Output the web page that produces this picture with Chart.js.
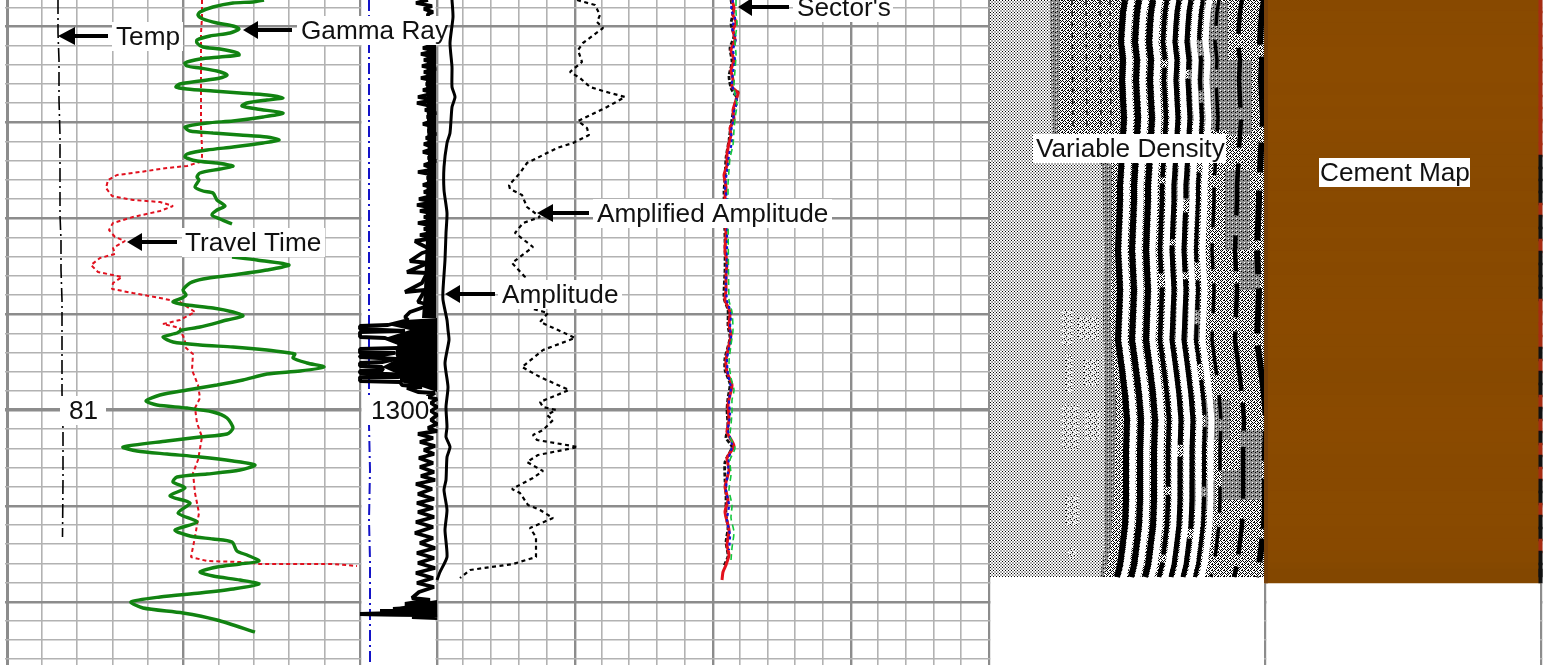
<!DOCTYPE html>
<html><head><meta charset="utf-8">
<style>html,body{margin:0;padding:0;background:#fff;overflow:hidden}canvas{display:block}</style>
<script src="https://cdn.jsdelivr.net/npm/chart.js@4"></script>
</head><body><canvas id="c" width="1554" height="665"></canvas>
<script>
// Curves: [track position, log row]. Log rows convert to depth (1300 sits on row 410, 1.917 rows per depth unit).
const gammaUpper=[[264,0],[253,2],[233,3],[213,7],[200,12],[198,15],[203,19],[217,23],[233,26],[239,29],[230,33],[210,36],[197,40],[197,43],[203,47],[220,49],[238,53],[239,55],[220,57],[200,59],[185,63],[187,66],[200,68],[217,71],[227,75],[220,78],[200,81],[180,84],[176,87],[187,89],[213,91],[240,93],[267,95],[283,98],[267,100],[247,103],[242,106],[257,109],[283,113],[263,117],[233,121],[207,123],[185,127],[190,131],[213,133],[240,135],[267,137],[279,140],[263,143],[233,147],[207,150],[187,154],[185,157],[197,161],[217,163],[233,166],[220,169],[200,173],[197,177],[199,180],[195,187],[203,191],[213,193],[217,200],[225,206],[217,210],[212,215],[220,219],[232,224]];
const gammaLower=[[232,257],[257,260],[289,265],[267,270],[233,275],[203,279],[190,283],[183,290],[186,295],[182,298],[173,302],[187,305],[213,308],[233,312],[243,316],[227,320],[200,327],[182,330],[177,333],[163,337],[173,342],[200,345],[233,347],[267,350],[290,353],[295,354],[293,358],[307,363],[324,367],[300,371],[267,374],[243,380],[217,385],[187,390],[160,395],[146,401],[157,405],[187,408],[213,412],[227,418],[233,428],[227,434],[200,437],[167,441],[123,447],[137,451],[167,454],[200,457],[233,461],[255,465],[240,470],[207,474],[177,477],[173,482],[185,488],[170,496],[190,503],[178,513],[197,522],[175,530],[190,536],[213,539],[232,542],[237,551],[247,555],[259,561],[240,564],[217,567],[200,572],[213,576],[240,580],[259,584],[233,589],[200,593],[160,597],[131,602],[143,608],[183,613],[217,620],[255,632]];
const travelTime=[[202,0],[202,17],[201,33],[201,67],[201,100],[201,127],[202,147],[202,157],[200,162],[187,166],[167,168],[140,172],[117,175],[108,180],[106,188],[112,196],[133,200],[160,202],[173,206],[160,211],[133,217],[113,223],[109,230],[115,237],[125,241],[113,248],[115,254],[100,258],[91,265],[98,272],[122,277],[113,283],[112,289],[133,293],[160,298],[180,302],[195,312],[180,320],[163,324],[180,328],[180,330],[185,340],[185,347],[193,354],[192,370],[198,385],[200,398],[195,408],[197,423],[202,437],[198,460],[193,473],[195,493],[199,513],[195,537],[191,557],[207,561],[240,562],[260,564],[333,564],[357,566]];
const temperature=[[58,0],[58,33],[59,60],[59,100],[60,135],[60,170],[60,215],[61,240],[61,270],[62,300],[62,330],[62,370],[62,393],[63,430],[63,480],[62.5,537]];
const casingGuide=[[369,0],[369,150],[369,300],[369,380],[369,425],[370,470],[369,520],[370,560],[370,610],[370,665]];
const amplitude=[[452,0],[453,17],[450,43],[452,67],[452,87],[455,97],[452,107],[450,133],[447,143],[444,167],[444,190],[447,213],[446,233],[445,260],[443,290],[443,300],[447,320],[448,330],[449,340],[445,363],[448,387],[446,407],[447,427],[446,437],[450,447],[447,457],[446,480],[444,490],[447,510],[445,530],[447,557],[440,572],[437,580]];
const amplifiedAmplitude=[[577,0],[595,5],[600,15],[597,22],[603,28],[583,43],[578,50],[582,62],[570,72],[580,78],[590,87],[603,91],[625,97],[607,107],[578,121],[587,128],[589,135],[573,143],[557,148],[527,163],[520,173],[509,185],[510,189],[522,195],[527,207],[540,217],[523,223],[515,233],[533,247],[512,263],[525,277],[533,309],[548,313],[540,322],[558,330],[575,338],[543,350],[522,367],[540,377],[569,390],[540,402],[543,407],[556,410],[547,415],[553,420],[543,430],[533,435],[537,440],[578,447],[538,455],[527,462],[543,471],[533,478],[512,489],[520,493],[528,505],[540,510],[553,518],[530,528],[536,537],[536,557],[513,564],[470,570],[460,578]];
const travelAmplitudeTrace=[[428,0],[416,3],[432,6],[424,9],[433,12],[428,14],[428,20],[430,30],[428,43],[433,45],[423,48],[435,51],[421,54],[434,57],[424,60],[435,63],[422,66],[436,69],[424,72],[434,75],[421,78],[435,81],[426,84],[434,87],[423,90],[435,93],[418,97],[434,100],[417,103],[435,107],[425,110],[436,113],[427,117],[435,120],[423,124],[435,127],[428,131],[436,134],[426,138],[435,141],[424,144],[435,148],[423,152],[435,155],[428,158],[436,161],[424,165],[435,169],[418,172],[434,175],[427,178],[435,181],[423,185],[435,188],[424,192],[435,195],[419,199],[434,202],[417,205],[433,208],[420,211],[435,214],[424,217],[434,220],[418,223],[433,226],[424,229],[435,232],[420,235],[434,238],[415,241],[420,244],[432,250],[422,253],[410,261],[428,263],[407,272],[427,273],[422,283],[405,292],[425,290],[418,302],[430,305],[410,312],[405,317],[408,320],[388,325],[360,326],[360,329],[405,331],[360,332],[360,337],[385,338],[398,343],[412,345],[398,348],[360,349],[360,353],[395,353],[383,355],[360,356],[360,357],[397,359],[383,362],[360,363],[360,366],[382,367],[383,370],[360,371],[360,373],[412,375],[398,377],[360,377],[360,381],[400,382],[402,385],[422,387],[407,388],[418,392],[435,393],[427,397],[437,399],[431,403],[437,407],[431,411],[437,415],[431,420],[437,424],[428,428],[437,431],[418,434],[433,438],[420,442],[435,446],[424,450],[434,454],[419,458],[433,463],[420,467],[434,472],[421,476],[435,480],[416,484],[432,489],[418,494],[434,499],[417,503],[433,508],[418,512],[434,517],[416,522],[433,527],[415,533],[433,538],[420,543],[435,548],[417,553],[434,558],[418,563],[435,568],[416,573],[433,578],[417,583],[434,587],[419,592],[412,598],[430,600],[405,604],[425,607],[393,609],[420,611],[380,611],[437,612],[360,614],[437,615],[412,617],[437,618]];
const amplitudeBlock=[[437,318],[405,320],[388,325],[410,330],[385,338],[398,343],[395,353],[397,359],[382,367],[400,375],[400,382],[422,387],[437,392]];
const amplitudeCore=[[436,43],[428,45],[426,80],[427,120],[428,160],[426,200],[426,240],[425,262],[424,290],[422,318],[436,318]];
const amplitudeFoot=[[437,600],[412,604],[396,608],[393,612],[360,612.5],[360,616],[437,617]];
const sectorRed=[[732,0],[734,8],[733,15],[736,22],[733,30],[735,40],[731,50],[734,60],[731,70],[733,80],[732,87],[738,93],[736,100],[733,110],[734,120],[730,128],[731,135],[729,143],[727,155],[727,165],[724,175],[726,187],[725,197],[726,235],[725,250],[727,263],[726,275],[726,290],[725,300],[730,312],[729,325],[731,335],[729,345],[726,360],[727,372],[732,385],[730,395],[728,405],[729,420],[727,432],[734,446],[727,458],[729,470],[725,487],[728,500],[725,512],[729,530],[727,545],[729,555],[726,565],[723,572],[722,580]];
const sectorBlue=[[733,0],[731,10],[735,18],[732,28],[736,38],[733,50],[735,60],[733,72],[732,85],[735,94],[737,102],[734,112],[733,122],[731,132],[732,142],[729,155],[728,165],[726,178],[725,190],[727,197],[727,240],[727,262],[726,285],[727,300],[731,314],[730,328],[731,340],[727,358],[728,375],[731,388],[729,400],[730,415],[728,430],[732,445],[729,458],[728,472],[726,490],[729,505],[727,520],[730,535],[729,550]];
const sectorGreen=[[736,0],[736,12],[737,25],[735,40],[736,55],[735,70],[734,85],[735,95],[737,105],[735,118],[734,130],[733,145],[730,158],[729,170],[728,185],[729,300],[732,312],[733,330],[731,345],[729,362],[731,378],[734,390],[732,400],[732,412],[731,425],[730,437],[735,448],[730,460],[731,475],[729,490],[732,505],[731,518],[734,532],[732,548],[731,560]];
const sectorBlack=[[731,0],[733,12],[731,24],[734,36],[730,48],[732,62],[729,76],[731,88],[736,96],[738,92],[734,108],[731,125],[729,140],[726,158],[725,178],[724,192],[725,240],[725,270],[724,298],[728,310],[728,326],[730,338],[725,358],[725,370],[730,384],[728,398],[727,410],[728,428],[726,438],[732,447],[725,462],[725,480],[726,495],[726,515],[728,528],[726,542],[728,556],[724,566]];

// Variable density section
const vdlRows=[0,12,25,42,60,80,100,118,135,150,170,185,200,225,250,270,290,315,340,355,370,395,420,450,480,500,525,550,565,577];
const vdlShift=[5,3,2,1,3,2,3,4,3,2,1,0,0,-1,-2,-1,0,-1,-2,0,2,5,7,6,6,6,5,2,0,-3];
const vdlStripeCenters=[1120,1134,1148,1162,1174,1186,1198,1214,1237,1259];
const vdlStripeWidths=[6,6,6,4.5,5,5,4,3.5,4.5,6];
const vdlStripeGaps=[[],[],[],[60,8,110,6,90,14,200,8],[140,10,90,6,200,12],[70,9,120,14,60,7,250,10],[40,16,35,12,60,10,90,18,30,14],[26,14,30,18,44,20,24,12,40,16],[34,14,60,12,28,16,52,20,36,12],[45,12,70,16,30,18,50,10,24,14]];
const vdlField=[[990,0],[1264,0],[1264,577],[990,577]];
const vdlNoiseZone=[[1055,0],[1054,60],[1053,130],[1060,140],[1107,160],[1108,250],[1106,320],[1112,400],[1110,500],[1108,550],[1100,577],[1264,577],[1264,0]];
const vdlDarkEdge=[[1050,0],[1060,0],[1058,135],[1112,165],[1112,250],[1110,320],[1116,400],[1114,500],[1110,550],[1104,577],[1100,577],[1104,550],[1105,400],[1103,320],[1104,250],[1102,165],[1052,135]];
const vdlSpeckle=[[1062,1072,310,345],[1078,1098,318,340],[1062,1078,405,450],[1085,1100,410,440],[1066,1072,355,392],[1084,1098,360,385],[1066,1078,495,525],[1068,1076,548,558]];
const vdlGrey=[[1204,1228,2,130],[1188,1204,40,120],[1228,1252,60,135],[1170,1195,170,200],[1225,1250,170,250],[1175,1200,300,340],[1205,1230,400,440],[1222,1240,470,500],[1240,1262,430,500],[1185,1215,480,510],[1240,1260,260,290]];
const vdlFaintStripes=[[1072,0,130],[1086,0,130],[1100,0,130],[1110,0,130]];

// Cement map rows (12 rows apart), shade of each and colour of the right edge
const cementRows=[6,18,30,42,54,66,78,90,102,114,126,138,150,162,174,186,198,210,222,234,246,258,270,282,294,306,318,330,342,354,366,378,390,402,414,426,438,450,462,474,486,498,510,522,534,546,558,570,576];
const cementShade=[2,3,3,4,5,5,5,4,5,4,5,4,3,3,3,2,3,2,2,3,2,3,2,3,3,4,4,4,3,3,2,1,2,3,4,4,4,3,2,2,2,3,3,3,2,2,1,-1,-3];
const cementEdge=['r','r','r','r','r','r','r','r','r','r','r','r','r','k','k','k','k','r','k','k','r','k','k','k','k','r','r','r','r','k','r','k','k','r','k','r','k','r','k','r','k','k','r','k','k','r','k','k','k'];

// Grid and text
const trackLines=[7,42,77,113,148,183,219,254,289,325,360,437,463,491,519,547,575,602,629,657,685,713,740,768,795,823,851,878,906,934,961,989,1265,1541];
const heavyTrackLines=[7,183,360,437,575,713,851,989,1265,1541];
const blankTracks=[[0,5],[361.5,435.5],[990.5,1264],[1266.5,1540],[1542.5,1554]];
const curveLabels=[
 {text:'Temp',x:116,row:36,boxL:112,boxR:183,tip:58,base:75,tail:108},
 {text:'Gamma Ray',x:301,row:30,boxL:297,boxR:447,tip:243,base:258,tail:292},
 {text:'Travel Time',x:185,row:242,boxL:182,boxR:325,tip:127,base:142,tail:177},
 {text:'Amplitude',x:502,row:294,boxL:498,boxR:622,tip:445,base:460,tail:495},
 {text:'Amplified Amplitude',x:597,row:213,boxL:593,boxR:832,tip:537,base:553,tail:589},
 {text:"Sector's",x:797,row:7,boxL:793,boxR:893,tip:738,base:752,tail:789},
 {text:'Variable Density',x:1036,row:148,boxL:1033,boxR:1226},
 {text:'Cement Map',x:1320,row:172,boxL:1319,boxR:1470},
 {text:'81',x:69,row:410,boxL:60,boxR:106},
 {text:'1300',x:371,row:410,boxL:365,boxR:428}
];

const depthPerRow=1/1.917;
const toDepth=r=>1300+(r-410)*depthPerRow;
const pts=a=>a.map(p=>({x:p[0],y:toDepth(p[1])}));

function tile(size,paint){const c=document.createElement('canvas');c.width=c.height=size;const g=c.getContext('2d');paint(g);return document.getElementById('c').getContext('2d').createPattern(c,'repeat');}
function paintCells(g,rows,map){rows.forEach((r,y)=>[...r].forEach((ch,x)=>{g.fillStyle=map[ch];g.fillRect(x,y,1,1);}));}
const palette={k:'#000',w:'#fff',g:'#adadad',d:'#8e8e8e'};
const latticeFill=tile(3,g=>paintCells(g,['kww','wgg','wgg'],palette));
const noiseFill=tile(6,g=>paintCells(g,['kwkwwk','wkwkww','kwwwkw','wkwkwk','wwkwkw','kwwkww'],palette));
const greyFill=tile(4,g=>paintCells(g,['dddk','dddd','wddd','dkdd'],palette));
const speckleFill=tile(6,g=>paintCells(g,['wwgwkg','gwwggw','wgkwgw','kwgwwg','gwgkwg','wgwwgw'],palette));

const rect=(x0,x1,r0,r1)=>[[x0,r0],[x1,r0],[x1,r1],[x0,r1]];
const stripe=(c,w)=>{const L=vdlRows.map((r,i)=>[c+vdlShift[i]-w/2,r]);const R=vdlRows.map((r,i)=>[c+vdlShift[i]+w/2,r]).reverse();return L.concat(R);};
const curve=(label,data,color,width,dash,tension)=>({type:'scatter',label,data:pts(data),showLine:true,borderColor:color,borderWidth:width,borderDash:dash||[],borderJoinStyle:'bevel',tension:tension||0,pointRadius:0,pointHoverRadius:0,backgroundColor:color});
const poly=(label,data,fill)=>({type:'scatter',label,data:pts(data),showLine:false,pointRadius:0,pointHoverRadius:0,polyFill:fill});

const cementColor=k=>`rgb(${134+k},${72+Math.round(k/2)},0)`;
const cementBars=(label,lo,hi,colors)=>({type:'bar',label,indexAxis:'y',grouped:false,data:cementRows.map(r=>({x:[lo,hi],y:toDepth(r)})),backgroundColor:colors,borderWidth:0,inflateAmount:1,barThickness:12.5});

// Back to front
const layers=[];
layers.push(poly('VDL field',vdlField,latticeFill));
layers.push(poly('VDL noise',vdlNoiseZone,noiseFill));
layers.push(poly('VDL edge',vdlDarkEdge,greyFill));
vdlSpeckle.forEach((s,i)=>layers.push(poly('VDL speckle '+i,rect(...s),speckleFill)));
vdlGrey.forEach((s,i)=>layers.push(poly('VDL grey '+i,rect(...s),greyFill)));
vdlFaintStripes.forEach((s,i)=>layers.push(curve('VDL faint '+i,[[s[0],s[1]],[s[0]+1,s[2]]],'#222',1.6,[5,6])));
vdlStripeCenters.forEach((c,i)=>{if(i<7)layers.push(poly('VDL white '+i,stripe(c+6.5,6),'#fff'));});
vdlStripeCenters.forEach((c,i)=>{
  const d=vdlRows.map((r,k)=>[c+vdlShift[k],r]);
  layers.push(curve('VDL stripe '+i,d,'#000',vdlStripeWidths[i],vdlStripeGaps[i]));
});
layers.push(cementBars('Cement Map',1266,1540,cementShade.map(cementColor)));
layers.push(cementBars('Cement left edge',1265,1267,cementRows.map(()=>'#76400a')));
layers.push(cementBars('Cement right edge',1539.5,1541.5,cementEdge.map(c=>c==='k'?'#111':'#a62c12')));
layers.push(curve('Casing',casingGuide,'#1313c8',2,[11,4,2,4]));
layers.push(curve('Temp',temperature,'#000',1.6,[14,4,2,4]));
layers.push(curve('Travel Time',travelTime,'#e1101e',2,[4,3]));
layers.push(curve('Gamma Ray',gammaUpper,'#118311',3.4,[],0.25));
layers.push(curve('Gamma Ray',gammaLower,'#118311',3.4,[],0.25));
layers.push(poly('Travel Amplitude block',amplitudeBlock,'#000'));
layers.push(poly('Travel Amplitude core',amplitudeCore,'#000'));
layers.push(poly('Travel Amplitude foot',amplitudeFoot,'#000'));
layers.push(curve('Travel Amplitude',travelAmplitudeTrace,'#000',3.8));
layers.push(curve('Amplitude',amplitude,'#000',3,[],0.2));
layers.push(curve('Amplified Amplitude',amplifiedAmplitude,'#000',2.2,[4,3.5]));
layers.push(curve("Sector's black",sectorBlack,'#111',2.8,[4,2],0.2));
layers.push(curve("Sector's red",sectorRed,'#e3101c',3,[],0.2));
layers.push(curve("Sector's blue",sectorBlue,'#1414d8',2.2,[3,3],0.2));
layers.push(curve("Sector's green",sectorGreen,'#12c83c',1.6,[6,4],0.2));

const blankPlugin={id:'blank',beforeDatasetsDraw(ch){const {ctx,scales:{x,y}}=ch;ctx.save();ctx.fillStyle='#fff';blankTracks.forEach(b=>{const l=x.getPixelForValue(b[0]),r=x.getPixelForValue(b[1]);ctx.fillRect(l,y.top,r-l,y.bottom-y.top);});ctx.restore();}};
const polyPlugin={id:'poly',beforeDatasetDraw(ch,args){const ds=ch.data.datasets[args.index];if(!ds.polyFill)return;const m=ch.getDatasetMeta(args.index).data;const {ctx}=ch;ctx.save();ctx.beginPath();m.forEach((p,i)=>i?ctx.lineTo(p.x,p.y):ctx.moveTo(p.x,p.y));ctx.closePath();ctx.fillStyle=ds.polyFill;ctx.fill();ctx.restore();}};
const labelPlugin={id:'labels',afterDatasetsDraw(ch){const {ctx,scales:{x,y}}=ch;ctx.save();ctx.font='26.2px "Liberation Sans"';ctx.textBaseline='middle';curveLabels.forEach(l=>{const py=y.getPixelForValue(toDepth(l.row));const bl=x.getPixelForValue(l.boxL),br=x.getPixelForValue(l.boxR);ctx.fillStyle='#fff';ctx.fillRect(bl,py-14,br-bl,29);ctx.fillStyle='#111';ctx.fillText(l.text,x.getPixelForValue(l.x),py+2);if(l.tip!==undefined){const t=x.getPixelForValue(l.tip),b=x.getPixelForValue(l.base),e=x.getPixelForValue(l.tail);ctx.fillStyle='#000';ctx.beginPath();ctx.moveTo(t,py);ctx.lineTo(b,py-9);ctx.lineTo(b,py+9);ctx.closePath();ctx.fill();ctx.fillRect(b-1,py-2,e-b+1,4);}});ctx.restore();}};

const isHeavy=v=>heavyTrackLines.includes(v);
const tickVal=c=>c.tick?Math.round(c.tick.value):NaN;
new Chart(document.getElementById('c'),{
 type:'scatter',
 data:{datasets:layers.reverse()},
 plugins:[blankPlugin,polyPlugin,labelPlugin],
 options:{responsive:false,animation:false,events:[],layout:{padding:0},
  plugins:{legend:{display:false},tooltip:{enabled:false},title:{display:false}},
  scales:{
   x:{type:'linear',offset:false,min:0,max:1554,afterBuildTicks(s){s.ticks=trackLines.map(v=>({value:v}));},
      ticks:{display:false},border:{display:false},
      grid:{offset:false,drawTicks:false,color:c=>isHeavy(tickVal(c))?'#8c8c8c':'#b2b2b2',lineWidth:c=>tickVal(c)===7?3:isHeavy(tickVal(c))?2.4:1.6}},
   y:{type:'linear',offset:false,reverse:true,min:toDepth(0),max:toDepth(665),
      ticks:{display:false,stepSize:10,includeBounds:false},border:{display:false},
      grid:{offset:false,drawTicks:false,color:c=>tickVal(c)%50===0?'#8c8c8c':'#b2b2b2',lineWidth:c=>{const v=tickVal(c);return v===1300?3.4:v%50===0?2.4:1.6;}}}
  }}
});
</script></body></html>
